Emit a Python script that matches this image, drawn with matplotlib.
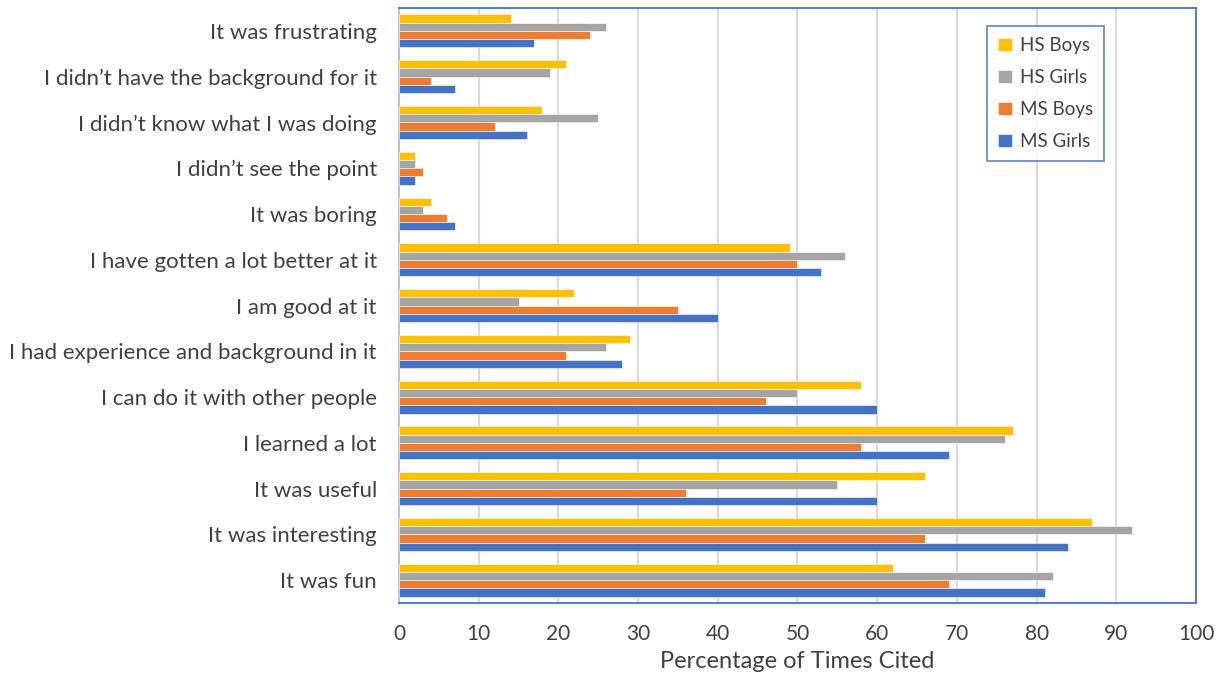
import numpy as np
import matplotlib
matplotlib.use('Agg')
import matplotlib.pyplot as plt

plt.rcParams['font.family'] = ['Lato', 'DejaVu Sans']

# categories, bottom to top
categories = [
    'It was fun',
    'It was interesting',
    'It was useful',
    'I learned a lot',
    'I can do it with other people',
    'I had experience and background in it',
    'I am good at it',
    'I have gotten a lot better at it',
    'It was boring',
    'I didn\u2019t see the point',
    'I didn\u2019t know what I was doing',
    'I didn\u2019t have the background for it',
    'It was frustrating',
]

hs_boys = [62, 87, 66, 77, 58, 29, 22, 49, 4, 2, 18, 21, 14]
hs_girls = [82, 92, 55, 76, 50, 26, 15, 56, 3, 2, 25, 19, 26]
ms_boys = [69, 66, 36, 58, 46, 21, 35, 50, 6, 3, 12, 4, 24]
ms_girls = [81, 84, 60, 69, 60, 28, 40, 53, 7, 2, 16, 7, 17]

series = [
    ('HS Boys', hs_boys, '#FFC000'),
    ('HS Girls', hs_girls, '#A5A5A5'),
    ('MS Boys', ms_boys, '#ED7D31'),
    ('MS Girls', ms_girls, '#4472C4'),
]

text_color = '#404040'

fig = plt.figure(figsize=(12.25, 6.8), dpi=100)
ax = fig.add_axes([0.3257, 0.1132, 0.6506, 0.875])

y = np.arange(len(categories))
h = 0.18
offsets = [1.5 * h, 0.5 * h, -0.5 * h, -1.5 * h]
for (name, vals, color), off in zip(series, offsets):
    ax.barh(y + off, vals, height=h, color=color, label=name,
            edgecolor='white', linewidth=0.4, zorder=3)

ax.set_xlim(0, 100)
ax.set_ylim(-0.5, len(categories) - 0.5)
ax.set_xticks(range(0, 101, 10))
ax.set_yticks(y)
ax.set_yticklabels(categories)
ax.tick_params(axis='both', length=0, colors=text_color)
ax.tick_params(axis='x', pad=15, labelsize=15)
ax.tick_params(axis='y', pad=16, labelsize=16)
ax.xaxis.grid(True, color='#D9D9D9', linewidth=1.5, zorder=0)
ax.set_axisbelow(True)

for s in ax.spines.values():
    s.set_color('#4472C4')
    s.set_linewidth(1.3)
ax.spines['left'].set_color('#BFBFBF')

ax.set_xlabel('Percentage of Times Cited', fontsize=17, color=text_color, labelpad=5)

handles, labels = ax.get_legend_handles_labels()
leg = ax.legend(handles, labels, loc='upper left', bbox_to_anchor=(0.738, 0.970),
                borderaxespad=0, fontsize=13.5, frameon=True, fancybox=False,
                handlelength=0.75, handleheight=0.75, handletextpad=0.4,
                labelspacing=0.8, borderpad=0.6, labelcolor=text_color)
leg.get_frame().set_edgecolor('#4472C4')
leg.get_frame().set_linewidth(1.3)

fig.savefig('out.png', dpi=100)
